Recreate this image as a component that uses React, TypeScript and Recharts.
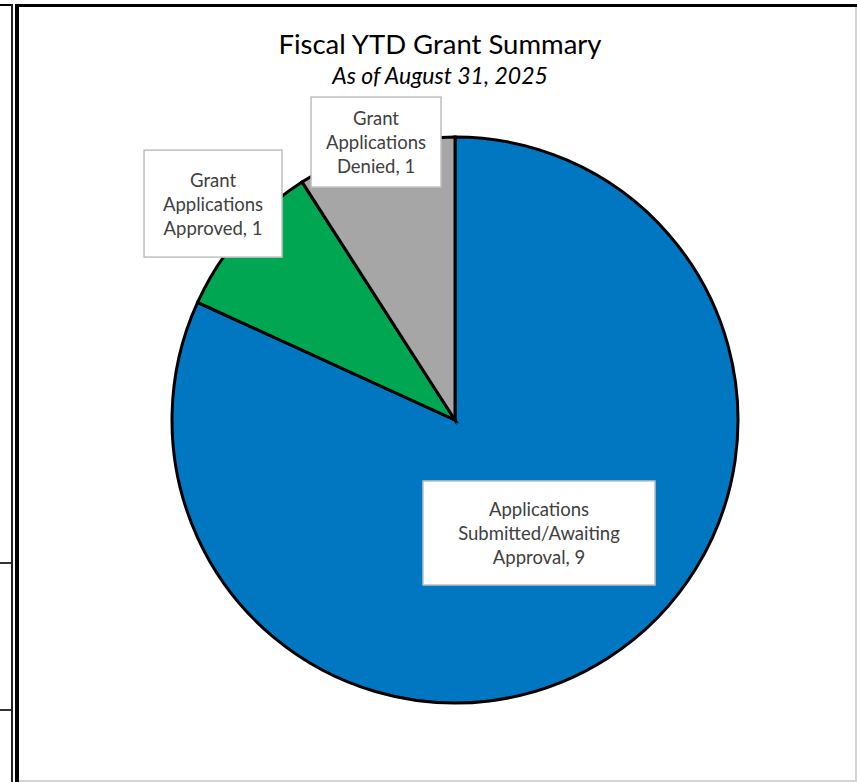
import { PieChart, Pie, Cell } from "recharts";

const categories = [
  "Applications Submitted/Awaiting Approval",
  "Grant Applications Approved",
  "Grant Applications Denied",
];
const counts = [9, 1, 1];
const categoryLines = [
  ["Applications", "Submitted/Awaiting", "Approval"],
  ["Grant", "Applications", "Approved"],
  ["Grant", "Applications", "Denied"],
];
const sliceColors = ["#0077C0", "#00A651", "#A6A6A6"];

const title = "Fiscal YTD Grant Summary";
const subtitle = "As of August 31, 2025";

const data = categories.map((name, i) => ({ name, value: counts[i] }));

// where each label box sits: fraction of the outer radius, and a small turn off the slice's mid angle
const labelRadius = [0.4975, 1.147, 1.021];
const labelAngleShift = [3.9, -0.9, -0.5];
const labelBox = [
  { w: 232, h: 104 },
  { w: 138, h: 107 },
  { w: 130, h: 90 },
];

const RADIAN = Math.PI / 180;
const FONT = "Lato, 'Noto Sans', sans-serif";

function SliceLabel(props: any) {
  const { cx, cy, midAngle, outerRadius, index } = props;
  const r = outerRadius * labelRadius[index];
  const a = midAngle + labelAngleShift[index];
  const x = cx + r * Math.cos(-a * RADIAN);
  const y = cy + r * Math.sin(-a * RADIAN);
  const box = labelBox[index];
  const lines = categoryLines[index].slice();
  lines[lines.length - 1] = `${lines[lines.length - 1]}, ${counts[index]}`;
  return (
    <g>
      <rect
        x={x - box.w / 2}
        y={y - box.h / 2}
        width={box.w}
        height={box.h}
        fill="#fff"
        stroke="#BFBFBF"
        strokeWidth={1.5}
      />
      {lines.map((t, k) => (
        <text
          key={k}
          x={x}
          y={y + (k - (lines.length - 1) / 2) * 24}
          textAnchor="middle"
          dominantBaseline="central"
          fontSize={18.5}
          fontFamily={FONT}
          fill="#404040"
        >
          {t}
        </text>
      ))}
    </g>
  );
}

export default function App() {
  return (
    <div style={{ position: "absolute", left: 0, top: 0, width: 857, height: 782, background: "#fff" }}>
      {/* neighbouring cells on the left */}
      <div style={{ position: "absolute", left: 0, top: 4, width: 12, height: 2, background: "#000" }} />
      <div style={{ position: "absolute", left: 11, top: 4, width: 2, height: 778, background: "#222" }} />
      <div style={{ position: "absolute", left: 0, top: 562, width: 11, height: 2, background: "#333" }} />
      <div style={{ position: "absolute", left: 0, top: 709, width: 11, height: 2, background: "#333" }} />
      {/* chart frame */}
      <div style={{ position: "absolute", left: 15, top: 4, width: 842, height: 3, background: "#000" }} />
      <div style={{ position: "absolute", left: 15, top: 4, width: 4, height: 778, background: "#000" }} />
      <div style={{ position: "absolute", left: 855, top: 7, width: 2, height: 775, background: "#D4D4D4" }} />
      <div style={{ position: "absolute", left: 19, top: 780, width: 838, height: 2, background: "#D4D4D4" }} />

      <div
        style={{
          position: "absolute",
          left: 240,
          top: 26,
          width: 400,
          textAlign: "center",
          fontFamily: FONT,
          fontSize: 27.5,
          lineHeight: "36px",
          color: "#000",
        }}
      >
        {title}
      </div>
      <div
        style={{
          position: "absolute",
          left: 240,
          top: 60,
          width: 400,
          textAlign: "center",
          fontFamily: FONT,
          fontSize: 23,
          fontStyle: "italic",
          lineHeight: "30px",
          color: "#000",
        }}
      >
        {subtitle}
      </div>

      <div style={{ position: "absolute", left: 19, top: 7 }}>
        <PieChart width={836} height={773} margin={{ top: 0, right: 0, bottom: 0, left: 0 }}>
          <Pie
            data={data}
            dataKey="value"
            nameKey="name"
            cx={436}
            cy={413}
            outerRadius={283}
            startAngle={90}
            endAngle={-270}
            stroke="#000"
            strokeWidth={3}
            label={SliceLabel}
            labelLine={false}
            isAnimationActive={false}
          >
            {data.map((d, i) => (
              <Cell key={d.name} fill={sliceColors[i]} />
            ))}
          </Pie>
        </PieChart>
      </div>
    </div>
  );
}
